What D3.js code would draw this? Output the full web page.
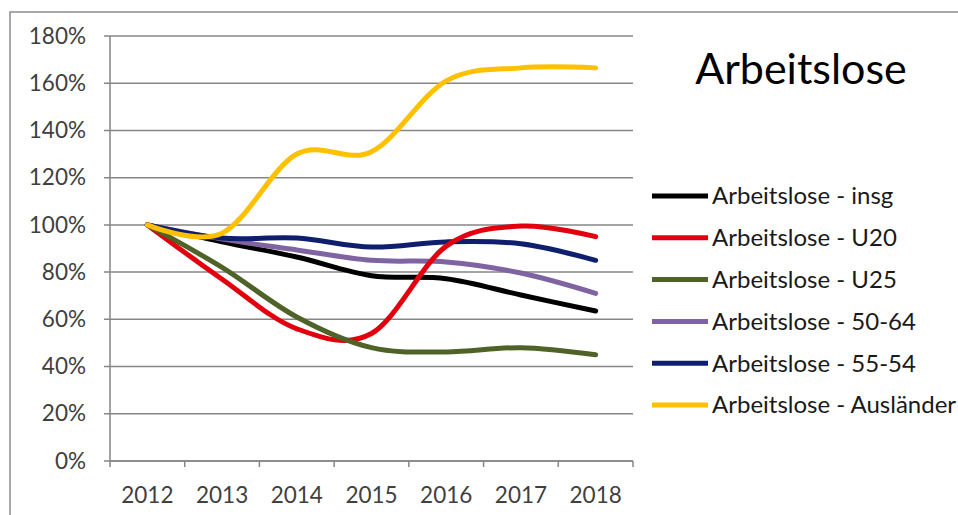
<!DOCTYPE html>
<html>
<head>
<meta charset="utf-8">
<script src="https://cdn.jsdelivr.net/npm/d3@7"></script>
<style>
  html, body { margin: 0; padding: 0; background: #fff; }
  svg { display: block; }
  text { font-family: Lato, "Open Sans", sans-serif; }
</style>
</head>
<body>
<svg id="chart" width="958" height="515"></svg>
<script>
// Jahre und Indexwerte (2012 = 100 %)
const years = ["2012", "2013", "2014", "2015", "2016", "2017", "2018"];
const yTicks = [0, 0.2, 0.4, 0.6, 0.8, 1.0, 1.2, 1.4, 1.6, 1.8];

const seriesNames = [
  "Arbeitslose - insg",
  "Arbeitslose - U20",
  "Arbeitslose - U25",
  "Arbeitslose - 50-64",
  "Arbeitslose - 55-54",
  "Arbeitslose - Ausländer"
];
const insg       = [1.00, 0.928, 0.864, 0.785, 0.772, 0.703, 0.635];
const u20        = [1.00, 0.77, 0.56, 0.54, 0.91, 0.995, 0.95];
const u25        = [1.00, 0.82, 0.61, 0.48, 0.462, 0.48, 0.45];
const a5064      = [1.00, 0.94, 0.894, 0.85, 0.843, 0.796, 0.71];
const a5554      = [1.00, 0.944, 0.944, 0.906, 0.928, 0.92, 0.85];
const auslaender = [1.00, 0.965, 1.30, 1.31, 1.61, 1.665, 1.665];
const seriesValues = [insg, u20, u25, a5064, a5554, auslaender];
const seriesColors = ["#000000", "#e2000f", "#4f6228", "#8064a2", "#0f1f6e", "#ffc000"];
// Zeichenreihenfolge der Linien (spätere liegen oben)
const drawOrder = [0, 3, 4, 1, 2, 5];

const svg = d3.select("#chart");

// Rahmen des Diagrammbereichs
svg.append("rect")
  .attr("x", 10).attr("y", 12)
  .attr("width", 980).attr("height", 540)
  .attr("fill", "#fff")
  .attr("stroke", "#8c8c8c").attr("stroke-width", 1.5);

const plot = { left: 110, right: 633, top: 36, bottom: 461 };

const x = d3.scaleBand().domain(years).range([plot.left, plot.right]).paddingInner(0).paddingOuter(0);
const y = d3.scaleLinear().domain([0, 1.8]).range([plot.bottom, plot.top]);

// Gitternetzlinien
svg.append("g").selectAll("line")
  .data(yTicks)
  .join("line")
  .attr("x1", plot.left - 6).attr("x2", plot.right)
  .attr("y1", d => y(d)).attr("y2", d => y(d))
  .attr("stroke", "#868686").attr("stroke-width", 1.5);

// Y-Achse
const yAxis = svg.append("g")
  .attr("transform", `translate(${plot.left},0)`)
  .call(d3.axisLeft(y).tickValues(yTicks).tickFormat(d3.format(".0%")).tickSize(0).tickPadding(24));
yAxis.select(".domain").remove();
yAxis.selectAll("text")
  .attr("font-size", 22.5).attr("fill", "#404040")
  .style("font-family", "Lato, 'Open Sans', sans-serif");
svg.append("line")
  .attr("x1", plot.left).attr("x2", plot.left)
  .attr("y1", plot.top).attr("y2", plot.bottom)
  .attr("stroke", "#868686").attr("stroke-width", 1.5);

// X-Achse mit Teilstrichen zwischen den Kategorien
const xAxis = svg.append("g")
  .attr("transform", `translate(0,${plot.bottom})`)
  .call(d3.axisBottom(x).tickSize(0).tickPadding(26));
xAxis.select(".domain").remove();
xAxis.selectAll("text")
  .attr("font-size", 22.5).attr("fill", "#404040")
  .style("font-family", "Lato, 'Open Sans', sans-serif");
svg.append("line")
  .attr("x1", plot.left).attr("x2", plot.right)
  .attr("y1", plot.bottom).attr("y2", plot.bottom)
  .attr("stroke", "#868686").attr("stroke-width", 1.5);
const boundaries = years.map(d => x(d)).concat([x.range()[1]]);
svg.append("g").selectAll("line")
  .data(boundaries)
  .join("line")
  .attr("x1", d => d).attr("x2", d => d)
  .attr("y1", plot.bottom).attr("y2", plot.bottom + 6)
  .attr("stroke", "#868686").attr("stroke-width", 1.5);

// Geglättete Linien
const line = d3.line()
  .x((d, i) => x(years[i]) + x.bandwidth() / 2)
  .y(d => y(d))
  .curve(d3.curveCatmullRom.alpha(0));

svg.append("g").selectAll("path")
  .data(drawOrder)
  .join("path")
  .attr("d", k => line(seriesValues[k]))
  .attr("fill", "none")
  .attr("stroke", k => seriesColors[k])
  .attr("stroke-width", 5)
  .attr("stroke-linecap", "round")
  .attr("stroke-linejoin", "round");

// Titel
svg.append("text")
  .attr("x", 801).attr("y", 84)
  .attr("text-anchor", "middle")
  .attr("font-size", 43)
  .attr("fill", "#000")
  .text("Arbeitslose");

// Legende
const legend = svg.append("g").selectAll("g")
  .data(seriesNames)
  .join("g")
  .attr("transform", (d, i) => `translate(652,${196 + i * 41.8})`);
legend.append("line")
  .attr("x1", 0).attr("x2", 56)
  .attr("y1", 0).attr("y2", 0)
  .attr("stroke", (d, i) => seriesColors[i])
  .attr("stroke-width", 5);
legend.append("text")
  .attr("x", 60).attr("y", 0)
  .attr("dy", "0.35em")
  .attr("font-size", 24)
  .attr("fill", "#1a1a1a")
  .text(d => d);
</script>
</body>
</html>
